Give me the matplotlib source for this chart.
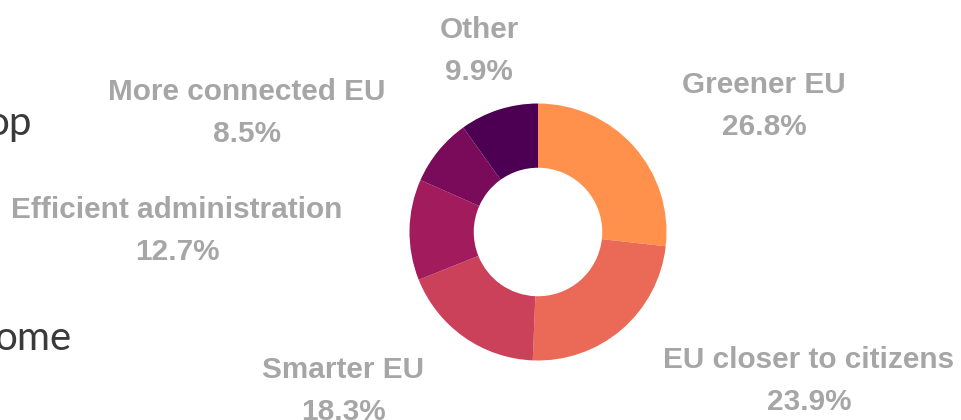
import matplotlib
matplotlib.use("Agg")
import matplotlib.pyplot as plt

# donut data, clockwise from 12 o'clock
categories = ["Greener EU", "EU closer to citizens", "Smarter EU",
              "Efficient administration", "More connected EU", "Other"]
shares = [26.8, 23.9, 18.3, 12.7, 8.5, 9.9]
colors = ["#FF914D", "#EA6957", "#CC415A", "#A21C5D", "#7A0B5A", "#4D0053"]

# label centres in pixels (x, y of first line from the top)
label_pos = [(764, 85), (809, 360), (343, 370), (177, 210), (247, 92), (479, 30)]

W, H = 962, 420
fig = plt.figure(figsize=(W / 100, H / 100), dpi=100)

cx, cy, r = 538, 232, 128.5
ax = fig.add_axes([(cx - r) / W, (H - cy - r) / H, 2 * r / W, 2 * r / H])
ax.pie(shares, colors=colors, startangle=90, counterclock=False, radius=1,
       wedgeprops=dict(width=0.5, edgecolor="none"))
ax.set_xlim(-1, 1)
ax.set_ylim(-1, 1)
ax.axis("off")

gray = "#A6A6A6"
for name, val, (x, y) in zip(categories, shares, label_pos):
    fig.text(x / W, 1 - y / H, name, ha="center", va="center", color=gray,
             fontsize=21.4, fontweight="bold", family="Liberation Sans")
    fig.text(x / W, 1 - (y + 42) / H, f"{val:.1f}%", ha="center", va="center",
             color=gray, fontsize=21.4, fontweight="bold", family="Liberation Sans")

# cut-off text from a neighbouring panel
fig.text(32 / W, 1 - 123 / H, "op", ha="right", va="center", color="#3A3A3A",
         fontsize=29, fontweight="normal", family="Lato")
fig.text(71 / W, 1 - 338 / H, "ome", ha="right", va="center", color="#3A3A3A",
         fontsize=29, fontweight="normal", family="Lato")

fig.savefig("out.png", dpi=100)
